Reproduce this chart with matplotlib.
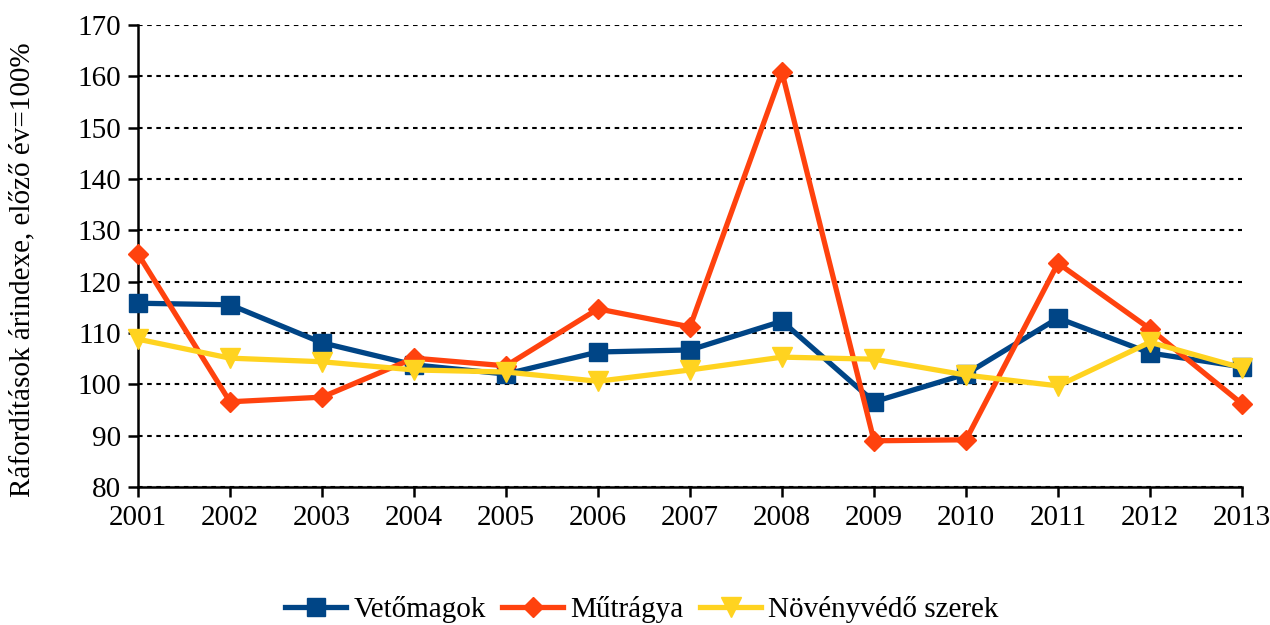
import matplotlib
matplotlib.use("Agg")
import matplotlib.pyplot as plt

years = ["2001", "2002", "2003", "2004", "2005", "2006", "2007", "2008", "2009", "2010", "2011", "2012", "2013"]
vetomagok = [115.8, 115.5, 108.1, 103.8, 102.0, 106.3, 106.7, 112.3, 96.6, 102.0, 112.9, 106.1, 103.4]
mutragya = [125.4, 96.6, 97.5, 105.1, 103.6, 114.7, 111.2, 160.8, 89.0, 89.2, 123.6, 110.8, 96.2]
novenyvedo = [108.8, 105.1, 104.4, 102.8, 102.4, 100.6, 102.8, 105.3, 104.9, 101.8, 99.7, 108.2, 103.2]

plt.rcParams['font.family'] = ['Liberation Serif', 'DejaVu Serif']

fig = plt.figure(figsize=(12.7, 6.25), dpi=100)
ax = fig.add_axes([138/1270, 1-487/625, (1242-138)/1270, (487-25)/625])

x = list(range(len(years)))
ax.plot(x, vetomagok, color="#004586", lw=3.8, marker="s", ms=13, label="Vetőmagok", zorder=3, clip_on=False)
ax.plot(x, mutragya, color="#ff420e", lw=3.8, marker="D", ms=10, label="Műtrágya", zorder=3, clip_on=False)
ax.plot(x, novenyvedo, color="#ffd320", lw=3.8, marker="v", ms=14, label="Növényvédő szerek", zorder=3, clip_on=False)

ax.set_xlim(0, len(years) - 1)
ax.set_ylim(80, 170)
ax.set_yticks(range(80, 171, 10))
ax.set_xticks(x)
ax.set_xticklabels(years)
ax.yaxis.grid(True, color="black", linestyle=(0, (2.2, 2.2)), linewidth=1.5)
ax.set_axisbelow(True)
for s in ["top", "right"]:
    ax.spines[s].set_visible(False)
ax.spines["left"].set_linewidth(1.8)
ax.spines["bottom"].set_linewidth(1.8)
ax.tick_params(axis="both", labelsize=21, width=1.8, length=7, direction="out")
ax.tick_params(axis="y", pad=5)
ax.tick_params(axis="x", pad=6)
ax.set_ylabel("Ráfordítások árindexe, előző év=100%", fontsize=21)
ax.yaxis.set_label_coords(-0.093, 0.47)

ax.legend(loc="center", bbox_to_anchor=(0.4565, -0.265), ncol=3, frameon=False,
          fontsize=21, handlelength=2.1, columnspacing=0.55, handletextpad=0.25)

fig.savefig("out.png", dpi=100)
